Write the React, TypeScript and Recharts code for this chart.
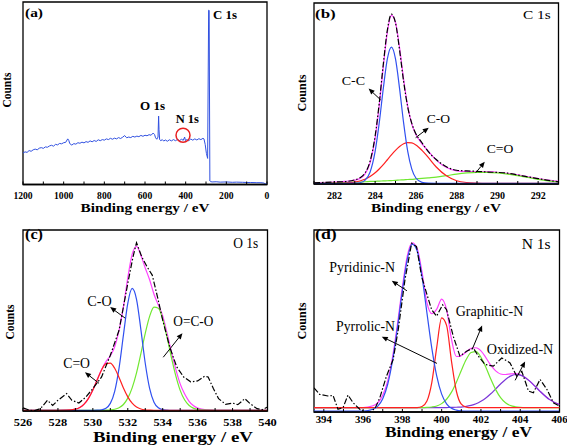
import React from 'react';
import { LineChart, Line, XAxis, YAxis, ReferenceArea, ReferenceLine, ReferenceDot } from 'recharts';

const FONT = '"Liberation Serif", "Times New Roman", serif';

// ---------- (a) survey ----------
const surveyEnergy = [1200,1190,1180,1170,1160,1150,1140,1130,1120,1110,1100,1090,1080,1070,1060,1050,1040,1030,1020,1010,1000,990,980,975,970,960,950,940,930,920,910,900,890,880,870,860,850,840,830,820,810,800,790,780,770,760,750,740,730,720,710,700,690,680,670,660,650,640,630,620,610,600,590,580,570,560,553,548,542,536,533,531,528,522,515,508,500,490,480,470,460,450,440,430,420,412,405,401,395,385,375,365,355,345,335,325,315,310,304,298,292,287,284.5,281,278,270,250,230,200,170,150,120,100,80,50,30,15,8,0];
const surveyCounts = [17.2,17.9,17.6,18.6,18.2,19.0,19.4,19.0,19.9,20.2,19.8,20.6,20.4,21.1,21.5,21.0,22.0,21.7,22.5,22.3,22.9,23.1,25.0,24.2,22.4,21.6,22.4,22.1,22.9,22.6,23.2,22.8,23.5,23.1,23.9,23.4,24.1,23.6,24.5,24.0,24.6,24.3,25.0,24.6,25.3,24.8,25.4,25.0,25.7,25.2,25.9,26.8,25.6,26.0,25.7,26.4,26.0,26.5,26.2,26.9,26.4,27.0,26.7,27.3,27.0,28.2,27.4,25.6,24.8,26.0,37.5,30.0,24.6,24.0,24.6,23.8,24.4,23.7,24.5,23.9,24.6,24.0,24.7,24.1,24.8,24.2,26.0,24.0,24.6,24.0,24.9,24.3,25.0,24.4,25.1,24.6,25.3,25.0,22.0,17.0,14.3,95.5,95.4,1.9,1.6,1.4,1.5,1.3,1.4,1.2,1.3,1.2,1.1,1.1,1.0,1.0,0.8,0.3,0.6];
const surveyTicks = [0,100,200,300,400,500,600,700,800,900,1000,1100,1200];
const surveyLabels = [0,200,400,600,800,1000,1200];

// ---------- (b) C 1s ----------
const c1sEnergy = [281,282,282.5,283,283.25,283.5,283.75,284,284.2,284.4,284.6,284.8,285,285.2,285.4,285.6,285.8,286,286.3,286.6,287,287.5,288,288.5,289,289.5,290,290.5,291,291.5,292,292.5,293];
const c1sCC = [0.4,0.4,0.4,0.45,0.7,2.0,6.5,18.0,33.6,52.7,69.1,75.6,69.1,52.7,33.6,18.0,8.2,3.3,0.9,0.45,0.4,0.4,0.4,0.4,0.4,0.4,0.4,0.4,0.4,0.4,0.4,0.4,0.4];
const c1sCO = [0.4,0.43,0.56,1.07,1.66,2.6,4.1,6.2,8.3,10.7,13.4,16.1,18.6,20.7,22.2,22.9,22.7,21.6,18.6,14.8,9.4,4.5,1.8,0.8,0.5,0.4,0.4,0.4,0.4,0.4,0.4,0.4,0.4];
const c1sCdO = [0.3,0.6,0.8,1.0,1.1,1.25,1.4,1.5,1.6,1.7,1.8,1.9,2.0,2.2,2.3,2.5,2.6,2.8,3.1,3.4,3.8,4.6,5.5,6.1,6.4,6.4,6.1,5.5,4.6,3.6,2.6,1.7,1.1];
const c1sFit = [0.7,1.0,1.4,2.1,3.1,5.5,11.6,25.3,43.1,64.7,83.9,93.2,89.3,75.2,57.7,43.0,33.1,27.3,22.2,18.3,13.2,9.1,7.3,6.9,6.9,6.8,6.5,5.9,5.0,4.0,3.0,2.1,1.5];
const c1sRaw = [0.6,1.1,1.3,2.3,3.4,6.0,12.5,26.5,44.5,66.0,85.0,93.8,89.0,74.0,56.5,42.5,33.5,27.8,22.8,18.0,13.5,9.5,7.6,7.2,7.0,6.6,6.4,6.0,5.0,3.9,3.0,2.0,1.2];
const c1sTicks = [281,282,283,284,285,286,287,288,289,290,291,292,293];
const c1sLabels = [282,284,286,288,290,292];

// ---------- (c) O 1s ----------
const o1sEnergy = [526,527,528,528.5,529,529.25,529.5,529.75,530,530.25,530.5,530.75,531,531.25,531.5,531.75,532,532.25,532.5,532.75,533,533.25,533.5,533.75,534,534.25,534.5,534.75,535,535.25,535.5,535.75,536,536.5,537,538,539,540];
const o1sCdO = [0.4,0.4,0.4,0.46,1.0,1.9,3.8,7.0,11.6,17.3,22.7,26.2,26.5,23.6,18.5,12.7,7.8,4.3,2.2,1.1,0.66,0.5,0.4,0.4,0.4,0.4,0.4,0.4,0.4,0.4,0.4,0.4,0.4,0.4,0.4,0.4,0.4,0.4];
const o1sCO = [0.4,0.4,0.4,0.4,0.4,0.4,0.4,0.4,0.4,0.45,0.65,1.5,4.2,10.9,23.7,41.9,59.5,67.7,61.7,45.0,26.4,12.5,4.9,1.75,0.74,0.5,0.4,0.4,0.4,0.4,0.4,0.4,0.4,0.4,0.4,0.4,0.4,0.4];
const o1sOCO = [0.4,0.4,0.4,0.4,0.4,0.4,0.4,0.4,0.4,0.4,0.4,0.45,0.6,0.96,1.8,3.6,7.1,12.8,21.1,31.7,42.9,52.3,57.4,56.8,50.7,40.7,29.5,19.4,11.4,6.2,3.2,1.6,0.85,0.45,0.4,0.4,0.4,0.4];
const o1sFit = [0.4,0.4,0.4,0.46,1.0,1.9,3.8,7.0,11.6,17.4,22.9,27.3,30.5,35.5,44.5,57.5,73.6,86.5,91.0,86.0,79.0,72.5,64.5,58.5,52.5,43.0,32.5,23.0,15.0,9.5,5.5,3.0,1.6,0.6,0.4,0.4,0.4,0.4];
const o1sRawE = [526,526.3,526.6,527.0,527.4,527.7,528.0,528.5,528.8,529.2,529.6,530.0,530.5,531.0,531.5,532.0,532.3,532.5,532.8,533.1,533.4,533.7,534.0,534.4,534.8,535.2,535.6,536.0,536.4,536.6,536.9,537.2,537.6,538.0,538.3,538.7,539.0,539.4,539.7,540];
const o1sRawV = [1.7,0.7,0.0,1.3,5.9,3.1,5.9,9.6,5.9,4.4,7.7,12.4,18.8,30.8,44.6,70.5,85.2,93.0,85.2,79.7,75.1,63.1,50.2,35.4,24.4,18.8,16.1,16.6,19.2,18.8,12.4,6.8,3.7,4.4,3.5,6.8,4.1,1.3,0.7,2.2];
const o1sTicks = [526,527,528,529,530,531,532,533,534,535,536,537,538,539,540];
const o1sLabels = [526,528,530,532,534,536,538,540];

// ---------- (d) N 1s ----------
const n1sEnergy = [393.5,394,395,396,396.5,396.75,397,397.25,397.5,397.75,398,398.25,398.5,398.75,399,399.25,399.5,399.75,400,400.25,400.5,400.75,401,401.25,401.5,401.75,402,402.25,402.5,402.75,403,403.25,403.5,403.75,404,404.25,404.5,404.75,405,405.5,406];
const n1sPyridinic = [0.5,0.5,0.5,0.5,1.5,3.2,7.3,15.1,28.3,46.4,66.7,83.9,92.2,88.6,74.3,54.5,35.0,19.7,9.8,4.5,2.0,1.0,0.6,0.5,0.5,0.5,0.5,0.5,0.5,0.5,0.5,0.5,0.5,0.5,0.5,0.5,0.5,0.5,0.5,0.5,0.5];
const n1sPyrrolic = [2.4,2.4,2.4,2.4,2.4,2.4,2.4,2.4,2.4,2.4,2.4,2.4,2.4,2.45,3.0,6.0,16.3,35.6,51.7,47.6,28.0,11.4,4.3,2.7,2.4,2.4,2.4,2.4,2.4,2.4,2.4,2.4,2.4,2.4,2.4,2.4,2.4,2.4,2.4,2.4,2.4];
const n1sGraphitic = [2.4,2.4,2.4,2.4,2.4,2.4,2.4,2.4,2.4,2.4,2.4,2.4,2.4,2.4,2.4,2.5,2.75,3.3,4.6,7.0,10.9,16.4,22.8,28.8,32.7,33.2,30.1,24.6,18.1,12.3,7.9,5.1,3.6,2.9,2.55,2.4,2.4,2.4,2.4,2.4,2.4];
const n1sOxidized = [2.4,2.4,2.4,2.4,2.4,2.4,2.4,2.4,2.4,2.4,2.4,2.4,2.4,2.4,2.4,2.4,2.4,2.4,2.4,2.45,2.5,2.6,2.7,3.1,3.6,4.5,5.9,7.7,10.0,12.7,15.4,17.9,19.7,20.6,20.3,19.0,16.8,14.2,11.5,6.8,4.1];
const n1sFit = [2.4,2.4,2.4,2.4,3.4,5.1,9.2,17.0,30.2,48.3,68.6,85.8,93.0,90.0,76.8,60.1,54.0,56.5,62.0,56.2,40.0,30.5,31.0,33.0,35.0,35.3,33.6,29.9,25.7,22.6,20.9,20.6,20.9,21.1,20.5,19.0,16.8,14.2,11.5,6.8,4.1];
const n1sRawE = [393.5,393.79,394.21,394.47,394.72,394.98,395.23,395.49,395.83,396.09,396.34,396.6,396.85,397.19,397.53,397.79,398.13,398.47,398.72,398.98,399.23,399.49,399.74,400.05,400.25,400.59,400.93,401.27,401.61,401.87,402.21,402.63,403.06,403.48,403.82,404.08,404.42,404.67,405.01,405.36,405.69,406];
const n1sRawV = [13.3,9.7,8.8,9.1,1.5,2.4,9.3,5.1,1.5,0,0,1.8,7.8,19.7,28.8,45.3,72.6,92.7,90.9,74.5,65.3,56.2,52.6,58.9,56.2,41.6,30.7,33.4,35.2,30.7,26.1,25.2,29.7,27.0,19.7,22.4,11.5,10.6,17.9,12.4,5.1,3.3];
const n1sTicks = [394,395,396,397,398,399,400,401,402,403,404,405,406];
const n1sLabels = [394,396,398,400,402,404,406];

// ---------- styling ----------
const BLUE = '#3050f0';
const RED = '#ff2020';
const GREEN = '#70e830';
const MAGENTA = '#ff40ff';
const PURPLE = '#7b36d8';
const DASH = '6 2 1.5 2';

type Rect = { x: number; y: number; w: number; h: number };
const PL = 20, PR = 20, PT = 6, AXH = 26;

function TickLabel(props: any) {
  const { x, y, payload, labels, fs, cw, dy } = props;
  if (!labels.includes(payload.value)) return <g />;
  const s = String(payload.value);
  return (
    <text x={x} y={y + dy} textAnchor="middle" fontFamily={FONT} fontWeight="bold" fontSize={fs}
      textLength={cw * s.length} lengthAdjust="spacingAndGlyphs" fill="#000">{s}</text>
  );
}

function ArrowShape(p: any) {
  const { x1, y1, x2, y2 } = p;
  const a = Math.atan2(y2 - y1, x2 - x1);
  const L = 6, W = 2.6;
  const bx = x2 - L * Math.cos(a), by = y2 - L * Math.sin(a);
  const pts = `${x2},${y2} ${bx - W * Math.sin(a)},${by + W * Math.cos(a)} ${bx + W * Math.sin(a)},${by - W * Math.cos(a)}`;
  return (
    <g>
      <line x1={x1} y1={y1} x2={bx} y2={by} stroke="#000" strokeWidth={1} />
      <polygon points={pts} fill="#000" />
    </g>
  );
}

function Panel(props: any) {
  const { rect, domain, reversed, ticks, labels, fs, cw, dy, data, children } = props;
  const r: Rect = rect;
  return (
    <div style={{ position: 'absolute', left: r.x - PL, top: r.y - PT }}>
      <LineChart width={r.w + PL + PR} height={r.h + PT + AXH} data={data}
        margin={{ top: PT, left: PL, right: PR, bottom: 0 }}>
        <XAxis dataKey="x" type="number" domain={domain} reversed={reversed} ticks={ticks} interval={0}
          allowDataOverflow height={AXH} tickSize={-3} tickMargin={3}
          axisLine={{ stroke: '#000', strokeWidth: 1.3 }} tickLine={{ stroke: '#000', strokeWidth: 1 }}
          tick={<TickLabel labels={labels} fs={fs} cw={cw} dy={dy} />} />
        <YAxis hide type="number" domain={[0, 100]} allowDataOverflow />
        <ReferenceArea x1={domain[0]} x2={domain[1]} y1={0} y2={100} fill="none" stroke="#000"
          strokeWidth={1.3} ifOverflow="visible" />
        {children}
      </LineChart>
    </div>
  );
}

function arrow(tail: [number, number], head: [number, number], key: string) {
  return (
    <ReferenceLine key={key} segment={[{ x: tail[0], y: tail[1] }, { x: head[0], y: head[1] }]}
      shape={ArrowShape} ifOverflow="visible" />
  );
}

function T(props: any) {
  const { x, y, w, fs, bold, children, anchor, rot } = props;
  if (rot) {
    return (
      <text x={0} y={0} transform={`translate(${x},${y}) rotate(-90)`} textAnchor="middle"
        fontFamily={FONT} fontWeight="bold" fontSize={fs} textLength={w} lengthAdjust="spacingAndGlyphs" fill="#000">{children}</text>
    );
  }
  return (
    <text x={x} y={y} textAnchor={anchor || 'start'} fontFamily={FONT} fontWeight={bold ? 'bold' : 'normal'}
      fontSize={fs} textLength={w} lengthAdjust="spacingAndGlyphs" fill="#000">{children}</text>
  );
}

const surveyRows = surveyEnergy.map((x, i) => ({ x, y: surveyCounts[i] }));
const c1sRows = c1sEnergy.map((x, i) => ({ x, cc: c1sCC[i], co: c1sCO[i], cdo: c1sCdO[i], fit: c1sFit[i], raw: c1sRaw[i] }));
const o1sRows = o1sEnergy.map((x, i) => ({ x, cdo: o1sCdO[i], co: o1sCO[i], oco: o1sOCO[i], fit: o1sFit[i] }));
const o1sRaw = o1sRawE.map((x, i) => ({ x, raw: o1sRawV[i] }));
const n1sRows = n1sEnergy.map((x, i) => ({ x, pyd: n1sPyridinic[i], pyr: n1sPyrrolic[i], gra: n1sGraphitic[i], oxi: n1sOxidized[i], fit: n1sFit[i] }));
const n1sRaw = n1sRawE.map((x, i) => ({ x, raw: n1sRawV[i] }));

const A: Rect = { x: 23, y: 2, w: 244, h: 182.5 };
const B: Rect = { x: 313.5, y: 3, w: 244.5, h: 181 };
const C: Rect = { x: 22.5, y: 230, w: 244.5, h: 181 };
const D: Rect = { x: 314, y: 230, w: 245.5, h: 182 };

const lp = { dot: false, isAnimationActive: false, strokeWidth: 1.2 } as const;

export default function App() {
  return (
    <div style={{ position: 'absolute', left: 0, top: 0, width: 567, height: 447, background: '#fff', overflow: 'hidden' }}>
      <Panel rect={A} domain={[0, 1200]} reversed ticks={surveyTicks} labels={surveyLabels} fs={9.5} cw={4.8} dy={14} data={surveyRows}>
        <Line {...lp} type="linear" dataKey="y" stroke="#3050e0" strokeWidth={1} />
        <ReferenceDot x={413} y={27} r={7} fill="none" stroke="#e82020" strokeWidth={1.5} ifOverflow="visible" />
      </Panel>

      <Panel rect={B} domain={[281, 293]} ticks={c1sTicks} labels={c1sLabels} fs={9.5} cw={5} dy={14.5} data={c1sRows}>
        <Line {...lp} type="monotone" dataKey="fit" stroke={MAGENTA} />
        <Line {...lp} type="monotone" dataKey="cdo" stroke={GREEN} />
        <Line {...lp} type="monotone" dataKey="co" stroke={RED} />
        <Line {...lp} type="monotone" dataKey="cc" stroke={BLUE} />
        <Line {...lp} type="monotone" dataKey="raw" stroke="#000" strokeDasharray={DASH} />
        {arrow([284.27, 46.5], [283.68, 52.7], 'b1')}
        {arrow([285.99, 25.6], [286.63, 31.1], 'b2')}
        {arrow([288.94, 6.2], [289.38, 12.3], 'b3')}
      </Panel>

      <Panel rect={C} domain={[526, 540]} ticks={o1sTicks} labels={o1sLabels} fs={11} cw={6.2} dy={15} data={o1sRows}>
        <Line {...lp} type="monotone" dataKey="fit" stroke={MAGENTA} />
        <Line {...lp} type="monotone" dataKey="oco" stroke={GREEN} />
        <Line {...lp} type="monotone" dataKey="co" stroke={BLUE} />
        <Line {...lp} type="monotone" dataKey="cdo" stroke={RED} />
        <Line {...lp} type="linear" data={o1sRaw} dataKey="raw" stroke="#000" strokeDasharray={DASH} />
        {arrow([531.85, 51.3], [530.99, 57.4], 'c1')}
        {arrow([530.35, 15.3], [529.55, 21.4], 'c2')}
        {arrow([534.03, 29.7], [535.13, 43.0], 'c3')}
      </Panel>

      <Panel rect={D} domain={[393.5, 406]} ticks={n1sTicks} labels={n1sLabels} fs={10.5} cw={5.4} dy={10.5} data={n1sRows}>
        <Line {...lp} type="monotone" dataKey="fit" stroke={MAGENTA} />
        <Line {...lp} type="monotone" dataKey="oxi" stroke={PURPLE} />
        <Line {...lp} type="monotone" dataKey="gra" stroke={GREEN} />
        <Line {...lp} type="monotone" dataKey="pyr" stroke={RED} />
        <Line {...lp} type="monotone" dataKey="pyd" stroke={BLUE} />
        <Line {...lp} type="linear" data={n1sRaw} dataKey="raw" stroke="#000" strokeDasharray={DASH} />
        {arrow([398.23, 66.6], [397.46, 72.1], 'd1')}
        {arrow([399.76, 26.7], [396.95, 41.4], 'd2')}
        {arrow([401.55, 34.3], [402.06, 47.5], 'd3')}
        {arrow([403.74, 17.4], [404.25, 27.8], 'd4')}
      </Panel>

      <svg width={567} height={447} style={{ position: 'absolute', left: 0, top: 0, pointerEvents: 'none' }}>
        {/* (a) */}
        <T x={25} y={17} w={18} fs={13} bold>(a)</T>
        <T x={213} y={19.3} w={24} fs={12.5} bold>C 1s</T>
        <T x={140} y={110} w={25} fs={12.5} bold>O 1s</T>
        <T x={175.7} y={122.7} w={23.3} fs={12.5} bold>N 1s</T>
        <T x={11} y={90} w={35} fs={12} rot>Counts</T>
        <T x={145} y={212} w={129} fs={12} bold anchor="middle">Binding energy / eV</T>
        {/* (b) */}
        <T x={315} y={17.5} w={20.7} fs={13} bold>(b)</T>
        <T x={523} y={19.3} w={27.7} fs={12.5}>C 1s</T>
        <T x={341.7} y={85} w={23.3} fs={12.5}>C-C</T>
        <T x={426.7} y={122.7} w={23.3} fs={12.5}>C-O</T>
        <T x={486.7} y={152.7} w={26.6} fs={12.5}>C=O</T>
        <T x={306} y={93} w={37} fs={12} rot>Counts</T>
        <T x={436} y={212} w={130} fs={12} bold anchor="middle">Binding energy / eV</T>
        {/* (c) */}
        <T x={25} y={239} w={18} fs={14} bold>(c)</T>
        <T x={233.3} y={248.3} w={25} fs={14}>O 1s</T>
        <T x={87.3} y={306} w={24.4} fs={14}>C-O</T>
        <T x={63.3} y={367.7} w={26.7} fs={14}>C=O</T>
        <T x={173.3} y={326} w={40} fs={14}>O=C-O</T>
        <T x={14} y={322} w={35} fs={13} rot>Counts</T>
        <T x={173} y={442.3} w={160} fs={14} bold anchor="middle">Binding energy / eV</T>
        {/* (d) */}
        <T x={315} y={239} w={21.7} fs={14} bold>(d)</T>
        <T x={521.7} y={249.3} w={29} fs={14}>N 1s</T>
        <T x={329.3} y={272} w={65.7} fs={14}>Pyridinic-N</T>
        <T x={336} y={331} w={59} fs={14}>Pyrrolic-N</T>
        <T x={455.7} y={316} w={67.6} fs={14}>Graphitic-N</T>
        <T x={486.7} y={354} w={66.6} fs={14}>Oxidized-N</T>
        <T x={306} y={321} w={37} fs={13} rot>Counts</T>
        <T x={458.5} y={437} w={147} fs={14} bold anchor="middle">Binding energy / eV</T>
      </svg>
    </div>
  );
}
